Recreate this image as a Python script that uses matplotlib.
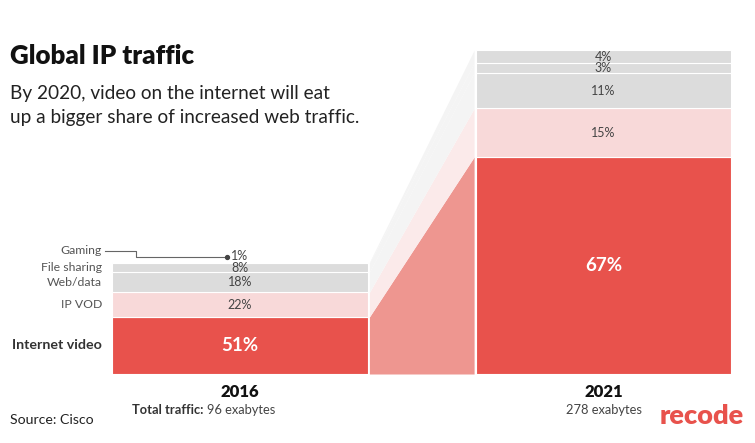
import matplotlib
matplotlib.use("Agg")
import matplotlib.pyplot as plt
import numpy as np

plt.rcParams['font.family'] = ['Lato', 'DejaVu Sans']

years = ["2016", "2021"]
totals = [96, 278]  # exabytes
categories = ["Internet video", "IP VOD", "Web/data", "File sharing", "Gaming"]
shares_2016 = [51, 22, 18, 8, 1]
shares_2021 = [67, 15, 11, 3, 4]
total_labels = ["96 exabytes", "278 exabytes"]

bar_colors = ["#e8524c", "#f8d9d9", "#dcdcdc", "#dcdcdc", "#dcdcdc"]
band_colors = ["#ee9690", "#fbeaea", "#f4f4f4", "#f4f4f4", "#f4f4f4"]

W, H = 755, 443
fig = plt.figure(figsize=(W / 100, H / 100), dpi=100)

# axes: bottom of bars at y=374px, top of axes at y=40px
px_per_unit = 1.165
bottom_px, top_px = 374, 40
ax = fig.add_axes([0, (H - bottom_px) / H, 1, (bottom_px - top_px) / H])
ax.set_ylim(0, (bottom_px - top_px) / px_per_unit)
step = 363.5
ax.set_xlim(-240 / step, (W - 240) / step)
ax.axis("off")

x = np.arange(len(years))
width = 0.704
gap = 0.004

all_shares = np.array([shares_2016, shares_2021], dtype=float)
values = all_shares / 100.0 * np.array(totals)[:, None]
bottoms = np.hstack([np.zeros((2, 1)), np.cumsum(values, axis=1)[:, :-1]])
tops = bottoms + values

# connecting bands
xb = [x[0] + width / 2 + gap, x[1] - width / 2 - gap]
for k in range(len(categories)):
    ax.fill_between(xb, [bottoms[0, k], bottoms[1, k]], [tops[0, k], tops[1, k]],
                    color=band_colors[k], linewidth=0)

# stacked bars
for k in range(len(categories)):
    ax.bar(x, values[:, k], width, bottom=bottoms[:, k], color=bar_colors[k],
           edgecolor="white", linewidth=0.8)

# percent labels
gaming_off = 5.6
for i in range(2):
    for k in range(len(categories)):
        mid = bottoms[i, k] + values[i, k] / 2
        if k == 0:
            ax.text(x[i], mid, f"{int(all_shares[i, k])}%", ha="center", va="center",
                    color="white", fontsize=13.5, fontweight="bold")
        else:
            y = mid
            if i == 0 and k == 4:
                y = tops[0, 4] + gaming_off
            if i == 0 and k == 3:
                y = mid - 0.6
            ax.text(x[i], y, f"{int(all_shares[i, k])}%", ha="center", va="center",
                    color="#444444", fontsize=9)

# category labels on the left
lx = (102 - 240) / step
gy = tops[0, 4] + 9.6
for k, cat in enumerate(categories):
    mid = bottoms[0, k] + values[0, k] / 2
    if k == 4:
        mid = gy
    if k == 0:
        ax.text(lx, mid, cat, ha="right", va="center", fontsize=10.3,
                fontweight="bold", color="#333333")
    else:
        ax.text(lx, mid, cat, ha="right", va="center", fontsize=8.8, color="#555555")

# leader line for gaming
dy = tops[0, 4] + 4.2
lx1 = (105 - 240) / step
lx2 = (136 - 240) / step
lx3 = (227 - 240) / step
ax.plot([lx1, lx2, lx2, lx3], [gy, gy, dy, dy], color="#666666", linewidth=0.8)
ax.plot([lx3], [dy], "o", color="#444444", markersize=2.8)


def fx(px):
    return px / W


def fy(py):
    return 1 - py / H


# titles
fig.text(fx(10), fy(56), "Global IP traffic", fontsize=18.6, fontweight="heavy",
         color="#111111", va="center")
fig.text(fx(10), fy(93), "By 2020, video on the internet will eat", fontsize=13.7,
         color="#222222", va="center")
fig.text(fx(10), fy(118), "up a bigger share of increased web traffic.", fontsize=13.7,
         color="#222222", va="center")

# year labels
for i in range(2):
    cx = 240 + i * step
    fig.text(fx(cx), fy(392), years[i], fontsize=12, fontweight="heavy",
             color="#111111", ha="center", va="center")
fig.text(fx(203), fy(410), "Total traffic:", fontsize=9.3, fontweight="bold",
         color="#333333", ha="right", va="center")
fig.text(fx(207), fy(410), total_labels[0], fontsize=9.3, color="#444444",
         ha="left", va="center")
fig.text(fx(240 + step), fy(410), total_labels[1], fontsize=9.3, color="#444444",
         ha="center", va="center")

fig.text(fx(10), fy(420), "Source: Cisco", fontsize=10.2, color="#222222", va="center")
fig.text(fx(702), fy(416), "recode", fontsize=19.5, fontweight="heavy",
         color="#e8524c", ha="center", va="center")

fig.savefig("out.png", dpi=100, facecolor="white")
